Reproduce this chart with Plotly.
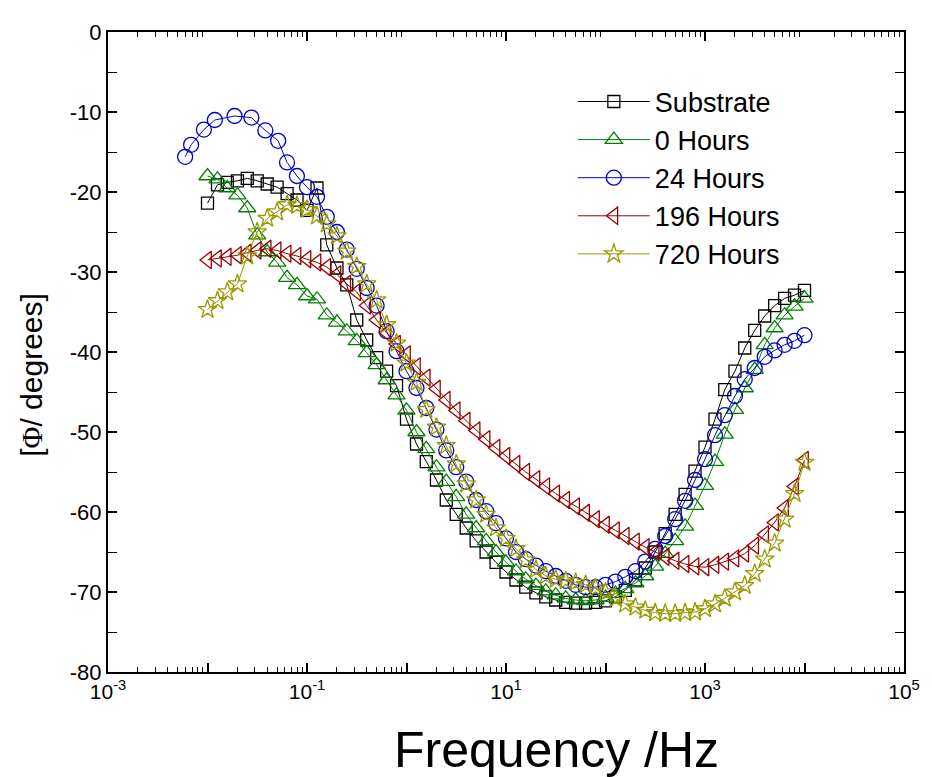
import plotly.graph_objects as go

# ---------------- data ----------------
freq = [0.01, 0.0126, 0.0158, 0.02, 0.0251, 0.0316, 0.0398, 0.0501, 0.0631, 0.0794,
        0.1, 0.126, 0.158, 0.2, 0.251, 0.316, 0.398, 0.501, 0.631, 0.794,
        1, 1.26, 1.58, 2, 2.51, 3.16, 3.98, 5.01, 6.31, 7.94,
        10, 12.6, 15.8, 20, 25.1, 31.6, 39.8, 50.1, 63.1, 79.4,
        100, 126, 158, 200, 251, 316, 398, 501, 631, 794,
        1000, 1260, 1580, 2000, 2510, 3160, 3980, 5010, 6310, 7940, 10000]

substrate = [-21.4, -19.1, -18.8, -18.6, -18.3, -18.6, -19.0, -19.4, -20.2, -21.0,
             -22.3, -19.5, -26.6, -29.5, -31.6, -36.0, -38.5, -40.7, -42.4, -44.2,
             -48.4, -51.5, -53.7, -56.0, -58.5, -60.3, -62.0, -63.6, -65.0, -66.3,
             -67.5, -68.5, -69.4, -70.1, -70.6, -71.0, -71.3, -71.4, -71.4, -71.3,
             -71.1, -70.6, -69.8, -68.5, -67.0, -65.0, -62.7, -60.3, -57.8, -54.9,
             -51.9, -48.4, -44.7, -42.4, -39.5, -37.3, -35.5, -34.2, -33.3, -32.9, -32.3]

hours0 = [-18.0, -18.4, -19.5, -20.4, -22.0, -25.4, -27.5, -28.8, -30.7, -31.6,
          -33.0, -33.4, -35.4, -36.3, -37.4, -38.6, -40.1, -41.6, -43.5, -45.4,
          -47.3, -50.0, -52.1, -54.4, -56.2, -58.1, -60.3, -62.0, -63.6, -65.0,
          -66.3, -67.4, -68.4, -69.2, -69.9, -70.4, -70.8, -71.0, -71.1, -71.0,
          -70.7, -70.2, -69.6, -68.9, -68.0, -66.8, -65.2, -63.6, -61.8, -59.2,
          -56.7, -53.7, -50.3, -47.2, -44.5, -42.2, -39.1, -37.0, -35.4, -34.3, -33.3]

freq24 = [0.00596, 0.00684, 0.0092, 0.01185, 0.0187, 0.0276, 0.0381, 0.0513, 0.063, 0.0792,
          0.1, 0.126, 0.158, 0.2, 0.251, 0.316, 0.398, 0.501, 0.631, 0.794,
          1, 1.26, 1.58, 2, 2.51, 3.16, 3.98, 5.01, 6.31, 7.94,
          10, 12.6, 15.8, 20, 25.1, 31.6, 39.8, 50.1, 63.1, 79.4,
          100, 126, 158, 200, 251, 316, 398, 501, 631, 794,
          1000, 1260, 1580, 2000, 2510, 3160, 3980, 5010, 6310, 7940, 10000]
hours24 = [-15.6, -14.1, -12.2, -11.0, -10.5, -10.7, -12.3, -13.6, -16.3, -18.0,
           -19.4, -20.6, -23.1, -25.0, -27.2, -29.6, -32.0, -34.2, -37.4, -39.9,
           -42.4, -44.5, -47.0, -49.7, -52.3, -54.4, -56.2, -58.5, -59.9, -61.4,
           -63.3, -65.0, -65.9, -66.7, -67.4, -68.0, -68.6, -69.1, -69.4, -69.4,
           -69.1, -68.7, -68.1, -67.4, -66.2, -64.6, -63.0, -60.9, -58.6, -56.0,
           -53.4, -50.4, -47.9, -45.5, -43.4, -42.0, -40.6, -39.8, -39.1, -38.6, -37.9]

hours196 = [-28.5, -28.3, -28.1, -27.9, -27.6, -27.3, -27.1, -27.3, -27.7, -28.0,
            -28.4, -28.8, -29.4, -30.3, -31.5, -32.5, -34.2, -36.0, -37.6, -39.0,
            -40.3, -41.8, -43.2, -44.6, -46.0, -47.3, -48.6, -49.8, -50.9, -52.0,
            -53.0, -54.0, -55.0, -55.9, -56.8, -57.7, -58.5, -59.3, -60.1, -60.9,
            -61.6, -62.3, -63.0, -63.7, -64.4, -65.0, -65.6, -66.1, -66.5, -66.8,
            -66.9, -66.6, -66.2, -65.8, -65.2, -64.2, -62.8, -61.3, -59.5, -56.8, -53.5]

hours720 = [-34.7, -33.6, -32.5, -31.5, -28.0, -25.0, -23.3, -22.5, -21.6, -21.7,
            -22.2, -23.0, -24.0, -25.5, -27.4, -29.3, -31.5, -33.5, -36.6, -38.9,
            -41.4, -43.8, -47.2, -49.4, -51.7, -54.0, -56.5, -58.5, -60.3, -62.0,
            -63.3, -64.6, -66.0, -67.2, -68.0, -68.4, -68.6, -68.8, -69.1, -69.5,
            -70.0, -70.8, -71.5, -71.9, -72.3, -72.6, -72.7, -72.7, -72.6, -72.5,
            -72.1, -71.5, -70.8, -70.0, -69.2, -67.7, -65.9, -63.9, -60.9, -57.7, -53.8]

x_labeled = [1e-3, 1e-1, 10, 1e3, 1e5]
x_labels = ["10<sup>-3</sup>", "10<sup>-1</sup>", "10<sup>1</sup>", "10<sup>3</sup>", "10<sup>5</sup>"]
x_unlabeled = [1e-2, 1, 100, 1e4]
x_minor = [m * d for d in [1e-3, 1e-2, 1e-1, 1, 10, 100, 1e3, 1e4] for m in range(2, 10)]
y_ticks = [0, -10, -20, -30, -40, -50, -60, -70, -80]
y_labels = ["0", "-10", "-20", "-30", "-40", "-50", "-60", "-70", "-80"]

# ---------------- figure ----------------
series = [
    ("Substrate", freq, substrate, "#000000", "square-open", 12),
    ("0 Hours", freq, hours0, "#008000", "triangle-up-open", 15),
    ("24 Hours", freq24, hours24, "#0000CC", "circle-open", 15),
    ("196 Hours", freq, hours196, "#990000", "triangle-left-open", 15),
    ("720 Hours", freq, hours720, "#999900", "star-open", 14),
]

FONT = "Liberation Sans, Arial"
fig = go.Figure()
for name, xs, ys, col, sym, sz in series:
    fig.add_trace(go.Scatter(
        x=xs, y=ys, name=name, mode="lines+markers",
        line=dict(color=col, width=1),
        marker=dict(symbol=sym, size=sz, color=col, line=dict(color=col, width=1.3)),
    ))

axis_common = dict(showgrid=False, zeroline=False, showline=True, linecolor="black",
                   linewidth=2, mirror="allticks", ticks="inside", tickcolor="black",
                   tickwidth=1.5)

fig.update_xaxes(type="log", range=[-3, 5], tickmode="array", tickvals=x_labeled,
                 ticktext=x_labels, ticklen=9,
                 tickfont=dict(family=FONT, size=21, color="black"),
                 minor=dict(tickmode="array", tickvals=x_minor, ticks="inside", ticklen=5,
                            tickcolor="black", tickwidth=1.2),
                 **axis_common)
fig.update_yaxes(range=[-80, 0], tickmode="array", tickvals=y_ticks, ticktext=y_labels,
                 ticklen=9, tickfont=dict(family=FONT, size=22, color="black"),
                 minor=dict(dtick=5, ticks="inside", ticklen=5, tickcolor="black", tickwidth=1.2),
                 **axis_common)

# unlabeled decade ticks (even decades) on an overlaid axis
fig.update_layout(xaxis2=dict(type="log", range=[-3, 5], overlaying="x", side="bottom",
                              anchor="y", tickmode="array", tickvals=x_unlabeled,
                              showticklabels=False, ticks="inside", ticklen=9,
                              tickcolor="black", tickwidth=1.5, showline=False,
                              showgrid=False, zeroline=False))
fig.add_trace(go.Scatter(x=[1e-3], y=[None], xaxis="x2", yaxis="y",
                         showlegend=False, hoverinfo="skip", mode="markers"))

fig.add_annotation(text="Frequency /Hz", xref="paper", yref="paper", x=0.564, y=-0.122,
                   showarrow=False, xanchor="center", yanchor="middle",
                   font=dict(family=FONT, size=50, color="black"))
fig.add_annotation(text="[<span style='font-family:Liberation Serif'>Φ</span>/ degrees]",
                   xref="paper", yref="paper", x=-0.097, y=0.464, textangle=-90,
                   showarrow=False, xanchor="center", yanchor="middle",
                   font=dict(family=FONT, size=30, color="black"))

fig.update_layout(
    width=924, height=769,
    margin=dict(l=100, r=19, t=17, b=105),
    paper_bgcolor="white", plot_bgcolor="white",
    showlegend=True,
    legend=dict(x=0.584, y=0.929, xanchor="left", yanchor="top", itemwidth=72,
                bgcolor="rgba(0,0,0,0)", font=dict(family=FONT, size=27, color="black"),
                tracegroupgap=0),
)

fig.write_html("out.html")
